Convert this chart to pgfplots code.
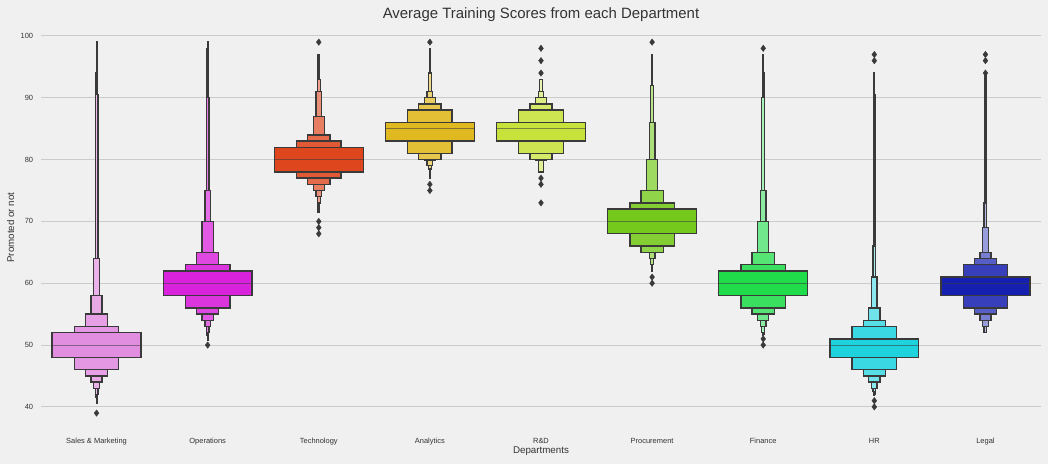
\documentclass[border=0pt]{standalone}
\usepackage{pgfplots}
\pgfplotsset{compat=1.18}
\usepackage{fontspec}
\setmainfont{Liberation Sans}
\definecolor{bg}{HTML}{F0F0F0}
\definecolor{gridc}{HTML}{CBCBCB}
\definecolor{edge}{HTML}{3A3A3A}
\definecolor{txt}{HTML}{333333}
\definecolor{cSM}{RGB}{226,142,224}
\definecolor{cOP}{RGB}{216,34,219}
\definecolor{cTE}{RGB}{222,70,30}
\definecolor{cAN}{RGB}{224,184,32}
\definecolor{cRD}{RGB}{199,226,58}
\definecolor{cPR}{RGB}{116,201,28}
\definecolor{cFI}{RGB}{32,219,74}
\definecolor{cHR}{RGB}{31,211,222}
\definecolor{cLE}{RGB}{22,32,176}
% letter-value box: x, level, lower value, upper value (colour and step set by \dept)
\newcommand{\dept}[2]{\def\lvcol{#1}\def\lvstep{#2}}
\newcommand{\lv}[4]{%
  \pgfmathsetmacro{\lvxl}{#1-0.4/(2^(#2-1))}%
  \pgfmathsetmacro{\lvxr}{#1+0.4/(2^(#2-1))}%
  \pgfmathsetmacro{\lvmix}{100-\lvstep*(#2-1)}%
  \edef\lvtmp{\noexpand\addplot[draw=edge, line width=1.3bp, line join=miter, mark=none,
    fill=\lvcol!\lvmix!white, forget plot]
    coordinates {(\lvxl,#3) (\lvxr,#3) (\lvxr,#4) (\lvxl,#4)} -- cycle;}%
  \lvtmp}
\newcommand{\med}[2]{%
  \pgfmathsetmacro{\lvxl}{#1-0.4}\pgfmathsetmacro{\lvxr}{#1+0.4}%
  \edef\lvtmp{\noexpand\addplot[draw=edge, draw opacity=0.55, line width=1bp, mark=none, forget plot]
    coordinates {(\lvxl,#2) (\lvxr,#2)};}%
  \lvtmp}
\begin{document}
\begin{tikzpicture}
\path[use as bounding box, fill=bg] (-41bp,-32.4bp) rectangle (1007bp,431.6bp);
\begin{axis}[
  scale only axis, width=1000bp, height=408bp,
  xmin=-0.5, xmax=8.5, ymin=36, ymax=102,
  axis line style={draw=none},
  major tick length=0pt,
  xtick={0,1,2,3,4,5,6,7,8},
  xticklabels={Sales \& Marketing, Operations, Technology, Analytics, R\&D, Procurement, Finance, HR, Legal},
  ytick={40,50,60,70,80,90,100},
  ymajorgrids, grid style={gridc, line width=1bp},
  /pgf/number format/assume math mode=true,
  tick label style={font=\fontsize{7.5}{9}\selectfont, text=txt, inner sep=0pt},
  xticklabel style={anchor=base, yshift=-11.4bp},
  yticklabel style={anchor=east, xshift=-7.7bp},
  xlabel={Departments}, ylabel={Promoted or not},
  xlabel style={at={(axis description cs:0.5,0)}, anchor=base, yshift=-21.7bp, font=\fontsize{9.8}{11}\selectfont, text=txt},
  ylabel style={at={(axis description cs:-0.027,0.5)}, anchor=base, font=\fontsize{9.8}{11}\selectfont, text=txt},
  every axis title shift=0pt,
  title={Average Training Scores from each Department},
  title style={at={(axis description cs:0.5,1)}, anchor=base, yshift=5.3bp, font=\fontsize{15}{17}\selectfont, text=txt},
]
% Sales & Marketing
\dept{cSM}{8}
\lv{0}{8}{40.6}{99}
\lv{0}{7}{41.5}{94}
\lv{0}{6}{42}{90.5}
\lv{0}{5}{43}{64}
\lv{0}{4}{44}{58}
\lv{0}{3}{45}{55}
\lv{0}{2}{46}{53}
\lv{0}{1}{48}{52}
\med{0}{50}
% Operations
\dept{cOP}{8.5}
\lv{1}{8}{50.8}{99}
\lv{1}{7}{51.5}{98}
\lv{1}{6}{52}{90}
\lv{1}{5}{53}{75}
\lv{1}{4}{54}{70}
\lv{1}{3}{55}{65}
\lv{1}{2}{56}{63}
\lv{1}{1}{58}{62}
\med{1}{60}
% Technology
\dept{cTE}{10}
\lv{2}{7}{71.5}{97}
\lv{2}{6}{73}{93}
\lv{2}{5}{74}{91}
\lv{2}{4}{75}{87}
\lv{2}{3}{76}{84}
\lv{2}{2}{77}{83}
\lv{2}{1}{78}{82}
\med{2}{80}
% Analytics
\dept{cAN}{10}
\lv{3}{7}{77}{98}
\lv{3}{6}{78.5}{94}
\lv{3}{5}{79}{91}
\lv{3}{4}{79.8}{90}
\lv{3}{3}{80}{89}
\lv{3}{2}{81}{88}
\lv{3}{1}{83}{86}
\med{3}{85}
% R&D
\dept{cRD}{12}
\lv{4}{6}{78}{93}
\lv{4}{5}{78}{91}
\lv{4}{4}{79.8}{90}
\lv{4}{3}{80}{89}
\lv{4}{2}{81}{88}
\lv{4}{1}{83}{86}
\med{4}{85}
% Procurement
\dept{cPR}{10}
\lv{5}{7}{62}{97}
\lv{5}{6}{63}{92}
\lv{5}{5}{64}{86}
\lv{5}{4}{65}{80}
\lv{5}{3}{65}{75}
\lv{5}{2}{66}{73}
\lv{5}{1}{68}{72}
\med{5}{70}
% Finance
\dept{cFI}{12}
\lv{6}{8}{51.5}{97}
\lv{6}{7}{51.8}{94}
\lv{6}{6}{52}{90}
\lv{6}{5}{53}{75}
\lv{6}{4}{54}{70}
\lv{6}{3}{55}{65}
\lv{6}{2}{56}{63}
\lv{6}{1}{58}{62}
\med{6}{60}
% HR
\dept{cHR}{12}
\lv{7}{8}{41.8}{94}
\lv{7}{7}{42}{90.5}
\lv{7}{6}{42.5}{66}
\lv{7}{5}{43}{61}
\lv{7}{4}{44}{56}
\lv{7}{3}{45}{54}
\lv{7}{2}{46}{53}
\lv{7}{1}{48}{51}
\med{7}{50}
% Legal
\dept{cLE}{14}
\lv{8}{7}{52}{94}
\lv{8}{6}{52}{73}
\lv{8}{5}{53}{69}
\lv{8}{4}{54}{65}
\lv{8}{3}{55}{64}
\lv{8}{2}{56}{63}
\lv{8}{1}{58}{61}
\med{8}{60}
% outliers
\addplot[only marks, mark=diamond*, mark size=3.2bp, color=edge, forget plot] coordinates {
(0,39)
(1,50)
(2,99) (2,70) (2,69) (2,68)
(3,99) (3,76) (3,75)
(4,98) (4,96) (4,94) (4,77) (4,76) (4,73)
(5,99) (5,61) (5,60)
(6,98) (6,51) (6,50)
(7,97) (7,96) (7,41) (7,40)
(8,97) (8,96) (8,94)
};
\end{axis}
\end{tikzpicture}
\end{document}
